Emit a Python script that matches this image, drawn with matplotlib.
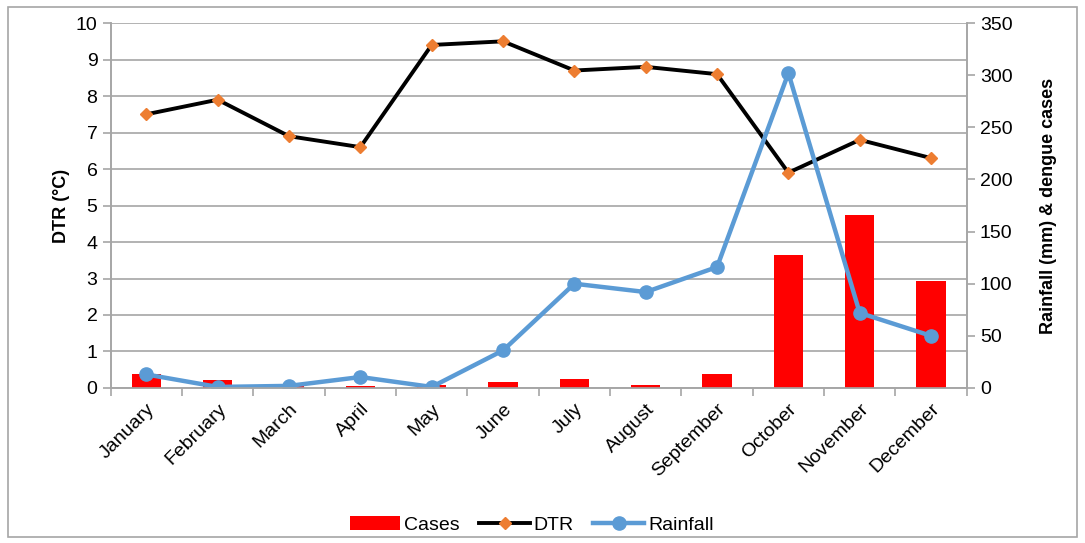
import matplotlib.pyplot as plt
from matplotlib.patches import Rectangle

months = ['January', 'February', 'March', 'April', 'May', 'June', 'July',
          'August', 'September', 'October', 'November', 'December']
dtr = [7.5, 7.9, 6.9, 6.6, 9.4, 9.5, 8.7, 8.8, 8.6, 5.9, 6.8, 6.3]
rainfall = [13, 1, 2, 10.5, 1, 36, 100, 92, 116, 302, 72, 50]
cases = [13, 8, 2, 2, 3, 5.5, 9, 3, 13, 128, 166, 103]

plt.rcParams['font.family'] = ['Liberation Sans', 'DejaVu Sans']
grey = '#a6a6a6'

fig = plt.figure(figsize=(10.85, 5.43), dpi=100)
ax1 = fig.add_axes([0.102, 0.2855, 0.789, 0.672])
ax2 = ax1.twinx()

x = list(range(len(months)))

# DTR on the left axis
ax1.plot(x, dtr, color='black', lw=2.8, marker='D', ms=6.5,
         mfc='#ed7d31', mec='#ed7d31', zorder=3, label='DTR')
ax1.set_ylim(0, 10)
ax1.set_yticks(range(0, 11))
ax1.set_xlim(-0.5, 11.5)
ax1.grid(axis='y', color=grey, lw=1.2)
ax1.set_axisbelow(True)
ax1.set_ylabel('DTR (°C)', fontsize=13, fontweight='bold', labelpad=4)

# cases and rainfall on the right axis
ax2.bar(x, cases, width=0.41, color='#ff0000', zorder=1, label='Cases')
ax2.plot(x, rainfall, color='#5b9bd5', lw=3.2, marker='o', ms=9.5,
         zorder=2, label='Rainfall')
ax2.set_ylim(0, 350)
ax2.set_yticks(range(0, 351, 50))
ax2.set_ylabel('Rainfall (mm) & dengue cases', fontsize=13,
               fontweight='bold', labelpad=20)

ax1.set_xticks(x)
ax1.set_xticklabels(months, rotation=45, ha='right', rotation_mode='anchor',
                    fontsize=14)
ax1.set_xticks([i + 0.5 for i in range(-1, 12)], minor=True)
ax1.tick_params(axis='x', which='major', length=0, pad=9)
ax1.tick_params(axis='x', which='minor', length=6, color=grey, width=1.2)

for ax in (ax1, ax2):
    ax.tick_params(axis='y', labelsize=14, color=grey, length=6, width=1.2)
    ax.spines['top'].set_visible(False)
    for s in ('left', 'right', 'bottom'):
        ax.spines[s].set_color(grey)
        ax.spines[s].set_linewidth(1.2)

# legend order: Cases, DTR, Rainfall
h1, l1 = ax1.get_legend_handles_labels()
h2, l2 = ax2.get_legend_handles_labels()
order = {'Cases': 0, 'DTR': 1, 'Rainfall': 2}
pairs = sorted(zip(h1 + h2, l1 + l2), key=lambda p: order[p[1]])
fig.legend([p[0] for p in pairs], [p[1] for p in pairs], loc='center',
           bbox_to_anchor=(0.49, 0.033), ncol=3, frameon=False, fontsize=14,
           handlelength=2.6, columnspacing=1.0, handletextpad=0.2)

fig.add_artist(Rectangle((0.007, 0.011), 0.986, 0.976, transform=fig.transFigure,
                         fill=False, edgecolor=grey, lw=1.2))

fig.savefig('out.png', dpi=100)
